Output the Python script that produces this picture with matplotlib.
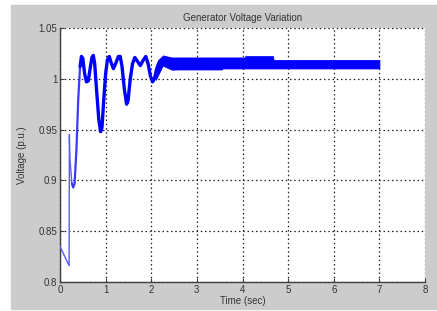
import matplotlib
matplotlib.use("Agg")
import matplotlib.pyplot as plt
from matplotlib.patches import Rectangle

plt.rcParams['font.family'] = ['Liberation Sans', 'DejaVu Sans']

# transient part of the voltage trace (time in s, voltage in p.u.)
t_trans = [0.0, 0.2, 0.205, 0.22, 0.26, 0.29, 0.32, 0.36, 0.40, 0.44, 0.47,
           0.50, 0.54, 0.58, 0.62, 0.66, 0.70, 0.73, 0.76, 0.80, 0.85, 0.89,
           0.92, 0.96, 1.00, 1.04, 1.08, 1.12, 1.17, 1.22, 1.28, 1.32, 1.36,
           1.41, 1.46, 1.49, 1.54, 1.59, 1.64, 1.70, 1.76, 1.82, 1.88, 1.93,
           1.98, 2.03, 2.07, 2.12, 2.18, 2.25]
v_trans = [0.835, 0.816, 0.945, 0.92, 0.897, 0.893, 0.897, 0.93, 0.98, 1.012,
           1.022, 1.020, 1.005, 0.997, 0.998, 1.010, 1.021, 1.023, 1.015, 0.99,
           0.96, 0.948, 0.952, 0.98, 1.005, 1.019, 1.022, 1.016, 1.010, 1.015,
           1.022, 1.022, 1.012, 0.99, 0.975, 0.978, 1.0, 1.015, 1.021, 1.017,
           1.013, 1.018, 1.022, 1.015, 1.003, 0.997, 1.0, 1.010, 1.017, 1.020]

# oscillation envelope after the transient
t_band = [2.1, 2.25, 2.45, 2.6, 3.55, 3.56, 4.05, 4.06, 4.67, 4.68, 7.0]
v_upper = [1.010, 1.023, 1.021, 1.021, 1.021, 1.021, 1.021, 1.0223, 1.0223, 1.0185, 1.0185]
v_lower = [0.999, 1.013, 1.009, 1.0092, 1.0092, 1.0102, 1.0102, 1.0102, 1.0102, 1.0102, 1.0102]

xticks = [0, 1, 2, 3, 4, 5, 6, 7, 8]
yticks = [0.8, 0.85, 0.9, 0.95, 1.0, 1.05]
ylabels = ['0.8', '0.85', '0.9', '0.95', '1', '1.05']

fig = plt.figure(figsize=(4.37, 3.11), dpi=100)
fig.patch.set_facecolor('white')
bg = Rectangle((11 / 437, 1 - 309 / 311), 426 / 437, 304 / 311,
               transform=fig.transFigure, color='#cccccc', zorder=-10)
fig.add_artist(bg)

ax = fig.add_axes([60 / 437, 1 - 282 / 311, 365 / 437, 254 / 311])
ax.set_zorder(1)
ax.set_facecolor('white')

blue = '#0000ff'
ax.plot(t_trans[:5], v_trans[:5], color='#5a5aff', lw=1.0, zorder=3)
ax.plot(t_trans[4:10], v_trans[4:10], color='#3a3aff', lw=1.6, zorder=3,
        solid_joinstyle='round', solid_capstyle='round')
ax.plot(t_trans[9:], v_trans[9:], color=blue, lw=2.4, zorder=3,
        solid_joinstyle='round', solid_capstyle='round')
ax.fill_between(t_band, v_lower, v_upper, color=blue, lw=0.6, zorder=3)

ax.set_xlim(0, 8)
ax.set_ylim(0.8, 1.05)
ax.set_xticks(xticks)
ax.set_yticks(yticks)
ax.set_yticklabels(ylabels)
ax.grid(True, color='#222222', linestyle=(0, (1.2, 2.2)), lw=0.9)
ax.set_axisbelow(True)

for s in ['top', 'right']:
    ax.spines[s].set_visible(False)
for s in ['left', 'bottom']:
    ax.spines[s].set_color('#404040')
    ax.spines[s].set_linewidth(1.0)
ax.tick_params(direction='in', length=3, width=0.8, colors='#404040',
               labelsize=7, labelcolor='#333333', pad=2)

ax.set_title('Generator Voltage Variation', fontsize=7, color='#333333', pad=5)
ax.set_xlabel('Time (sec)', fontsize=7, color='#333333', labelpad=1)
ax.set_ylabel('Voltage (p.u.)', fontsize=7, color='#333333', labelpad=8)

fig.savefig('out.png', dpi=100)
